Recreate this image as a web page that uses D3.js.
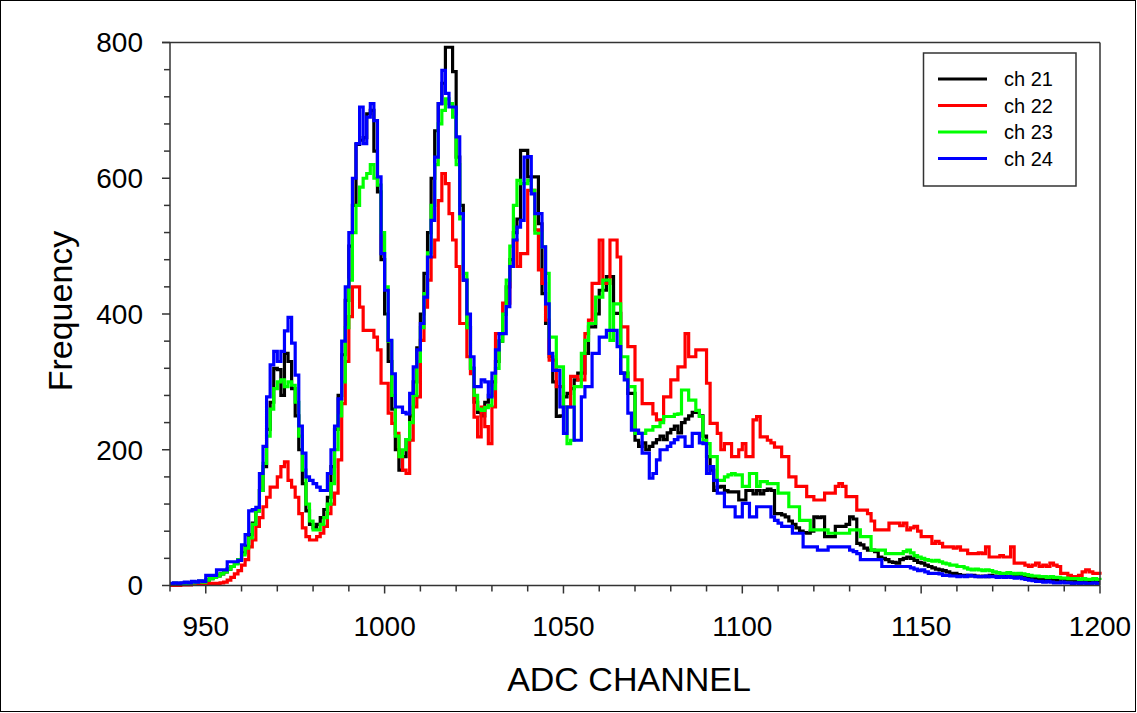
<!DOCTYPE html>
<html><head><meta charset="utf-8">
<script src="https://cdn.jsdelivr.net/npm/d3@7"></script>
<style>body{margin:0;background:#fff;}svg{display:block;font-family:Arial,"Liberation Sans",sans-serif;}</style>
</head><body>
<svg id="c" width="1137" height="713"></svg>
<script>
const startChannel = 940;
const seriesNames = ["ch 21", "ch 22", "ch 23", "ch 24"];
const seriesColors = ["#000000", "#ff0000", "#00ff00", "#0000ff"];
const xTicks = [950, 1000, 1050, 1100, 1150, 1200];
const yTicks = [0, 200, 400, 600, 800];

const ch21 = [
2,3,2,3,4,3,5,4,6,5,
8,10,12,14,17,20,24,28,33,38,
48,58,75,92,110,140,175,230,270,320,
318,280,342,330,290,250,200,150,110,90,
85,90,100,112,130,175,230,280,340,420,
500,560,650,656,660,695,700,640,580,480,
400,330,260,200,170,190,215,250,300,350,
400,460,520,600,670,710,740,793,793,757,
631,560,450,380,320,270,255,250,270,280,
300,330,360,400,440,480,520,540,641,641,
602,602,602,533,430,386,337,300,249,250,
278,283,290,303,313,313,342,381,381,400,
435,435,455,455,401,401,313,313,283,283,
214,205,210,200,205,210,215,220,215,225,
230,235,225,240,245,250,255,255,250,220,
190,170,140,145,146,140,138,138,138,126,
126,140,140,135,140,135,140,142,140,106,
106,104,101,95,90,85,80,78,77,80,
101,100,101,72,72,72,87,87,87,90,
101,98,62,60,55,52,52,50,42,40,
38,35,34,33,38,40,42,40,37,34,
33,30,28,26,24,23,22,20,18,18,
16,15,15,14,15,14,13,14,13,15,
14,13,13,14,13,12,13,14,12,11,
10,10,9,10,9,8,9,8,8,10,
9,8,8,7,8,7,8,6,7,6,
6];

const ch22 = [
0,0,0,1,1,1,2,2,2,3,
3,3,3,3,4,5,8,12,17,22,
30,38,57,67,87,100,116,130,145,145,
160,175,182,155,145,130,106,85,72,67,
67,72,77,87,106,120,136,185,268,330,
396,440,440,410,376,376,376,366,347,298,
298,254,239,224,190,170,165,214,263,278,
361,410,450,484,509,567,607,592,548,509,
470,386,386,337,312,248,219,263,234,209,
263,371,371,416,416,470,509,470,489,489,
582,582,524,465,445,391,332,332,293,293,
263,263,308,308,303,303,371,391,445,445,
509,445,445,509,509,484,381,381,352,352,
303,303,268,268,268,253,244,244,278,278,
303,303,322,322,371,337,337,347,347,347,
298,239,239,224,200,209,209,190,190,200,
209,190,190,244,249,219,219,214,210,204,
204,190,190,160,160,146,146,146,131,131,
126,126,126,136,136,136,146,150,146,131,
131,131,111,111,111,106,95,82,82,82,
82,92,92,92,88,92,82,85,87,80,
72,72,72,62,65,62,57,57,57,55,
57,52,52,47,47,47,48,47,57,42,
42,42,44,42,42,57,33,33,33,30,
28,30,33,28,30,28,33,30,28,18,
18,15,13,13,15,20,23,20,18,18,
16];

const ch23 = [
2,3,2,3,3,4,4,5,6,5,
8,10,12,14,17,20,24,28,32,38,
45,55,70,90,110,140,180,220,260,290,
300,303,293,300,295,270,220,170,120,95,
82,82,90,100,120,150,200,250,300,380,
450,520,560,587,600,607,620,600,590,520,
440,360,280,220,190,200,215,240,280,330,
380,430,490,560,620,680,700,717,710,690,
620,540,460,380,320,280,260,258,262,265,
290,320,360,400,450,500,560,597,592,592,
597,582,519,519,499,460,366,366,322,322,
263,209,214,293,293,342,361,386,386,425,
425,450,450,361,415,415,337,337,293,293,
224,224,224,229,229,234,234,240,249,249,
249,252,253,288,288,273,273,258,249,214,
209,190,190,155,155,160,163,165,163,163,
146,146,165,165,146,153,153,150,150,150,
136,136,136,116,116,116,96,96,96,82,
82,82,82,82,77,77,77,77,77,77,
82,82,82,72,72,72,52,52,52,52,
47,47,47,47,47,50,52,48,44,42,
40,38,37,36,37,35,33,32,30,30,
28,28,26,24,23,24,23,22,23,22,
20,19,18,18,19,18,17,18,17,16,
15,14,14,13,13,12,13,12,12,11,
11,10,10,10,9,10,9,9,10,9,
8];

const ch24 = [
3,4,3,4,5,4,6,5,7,6,
15,15,15,23,23,23,35,35,35,37,
60,75,110,112,115,165,205,278,325,345,
330,345,375,395,357,310,235,195,160,155,
150,145,140,140,165,200,235,275,360,440,
520,600,651,705,651,690,710,685,602,489,
435,361,312,263,263,255,253,283,322,347,
386,425,484,538,631,710,759,725,705,705,
661,548,450,400,337,293,293,303,300,278,
313,347,371,371,411,470,509,528,538,631,
632,577,548,548,499,415,342,317,317,263,
224,263,263,214,214,278,293,293,342,342,
366,366,376,376,376,352,313,303,254,229,
229,224,195,195,158,165,185,200,200,205,
210,215,219,219,205,205,224,224,210,209,
165,175,155,136,136,116,116,116,101,101,
121,121,101,101,116,116,116,116,101,96,
92,87,87,87,77,77,77,57,57,57,
57,52,52,52,57,57,57,57,57,57,
52,50,47,38,38,38,38,38,38,28,
28,28,28,28,28,28,28,26,24,22,
23,20,18,18,18,17,15,15,14,14,
13,14,13,15,14,13,13,13,14,13,
13,12,13,12,13,12,11,12,10,9,
8,7,6,6,5,6,5,4,4,5,
4,4,3,4,3,4,3,3,4,3,
3];

const allSeries = [ch21, ch22, ch23, ch24];

const svg = d3.select("#c");
// outer frame
svg.append("rect").attr("x",0.5).attr("y",0.5).attr("width",1135).attr("height",711)
  .attr("fill","none").attr("stroke","#000").attr("stroke-width",1);

const L = 170, R = 1100, T = 42.5, B = 585.5;
const x = d3.scaleLinear().domain([940, 1200]).range([L, R]);
const y = d3.scaleLinear().domain([0, 800]).range([B, T]);

svg.append("defs").append("clipPath").attr("id","clip")
  .append("rect").attr("x",L).attr("y",T-4).attr("width",R-L+2).attr("height",B-T+6);

const g = svg.append("g").attr("clip-path","url(#clip)");
const line = d3.line().curve(d3.curveStepAfter)
  .x(d => x(d[0])).y(d => y(d[1]));
allSeries.forEach((s, k) => {
  const pts = s.map((v, i) => [startChannel + i, v]);
  g.append("path").datum(pts).attr("d", line)
    .attr("fill","none").attr("stroke", seriesColors[k])
    .attr("stroke-width", 3.2).attr("stroke-linejoin","miter");
});

const axisColor = "#333";
// frame top & right
svg.append("line").attr("x1",L-8).attr("x2",R).attr("y1",T).attr("y2",T).attr("stroke",axisColor).attr("stroke-width",1.5);
svg.append("line").attr("x1",R).attr("x2",R).attr("y1",T).attr("y2",B).attr("stroke",axisColor).attr("stroke-width",1.5);

// x axis
const xMinor = d3.range(940, 1201, 10);
const xa = svg.append("g").attr("transform",`translate(0,${B})`);
xa.append("line").attr("x1",L).attr("x2",R).attr("stroke",axisColor).attr("stroke-width",1.5);
xa.selectAll("line.mt").data(xMinor).enter().append("line")
  .attr("x1",d=>x(d)).attr("x2",d=>x(d)).attr("y1",0)
  .attr("y2",d=> (d%50===0)?8:6).attr("stroke",axisColor).attr("stroke-width",1.5);
xa.selectAll("text").data(xTicks).enter().append("text")
  .attr("x",d=>x(d)).attr("y",50).attr("text-anchor","middle")
  .attr("font-size",28).attr("fill","#000").text(d=>d);

// y axis
const yMinor = d3.range(0, 801, 40);
const ya = svg.append("g").attr("transform",`translate(${L},0)`);
ya.append("line").attr("y1",T).attr("y2",B).attr("stroke",axisColor).attr("stroke-width",1.5);
ya.selectAll("line.mt").data(yMinor).enter().append("line")
  .attr("y1",d=>y(d)).attr("y2",d=>y(d)).attr("x1",0)
  .attr("x2",d=> (d%200===0)?-8:-6).attr("stroke",axisColor).attr("stroke-width",1.5);
ya.selectAll("text").data(yTicks).enter().append("text")
  .attr("x",-27).attr("y",d=>y(d)).attr("dy","0.35em").attr("text-anchor","end")
  .attr("font-size",28).attr("fill","#000").text(d=>d);

// axis titles
svg.append("text").attr("x",629).attr("y",691).attr("text-anchor","middle")
  .attr("font-size",34).attr("fill","#000").text("ADC CHANNEL");
svg.append("text").attr("transform","translate(72,311) rotate(-90)").attr("text-anchor","middle")
  .attr("font-size",34).attr("fill","#000").text("Frequency");

// legend
const lg = svg.append("g");
lg.append("rect").attr("x",923.5).attr("y",53).attr("width",152.5).attr("height",133)
  .attr("fill","#fff").attr("stroke","#333").attr("stroke-width",1.5);
seriesNames.forEach((n, k) => {
  const yy = 79 + k*26.5;
  lg.append("line").attr("x1",938).attr("x2",987).attr("y1",yy).attr("y2",yy)
    .attr("stroke",seriesColors[k]).attr("stroke-width",3);
  lg.append("text").attr("x",1004).attr("y",yy+7).attr("font-size",20).attr("fill","#000").text(n);
});
</script>
</body></html>
